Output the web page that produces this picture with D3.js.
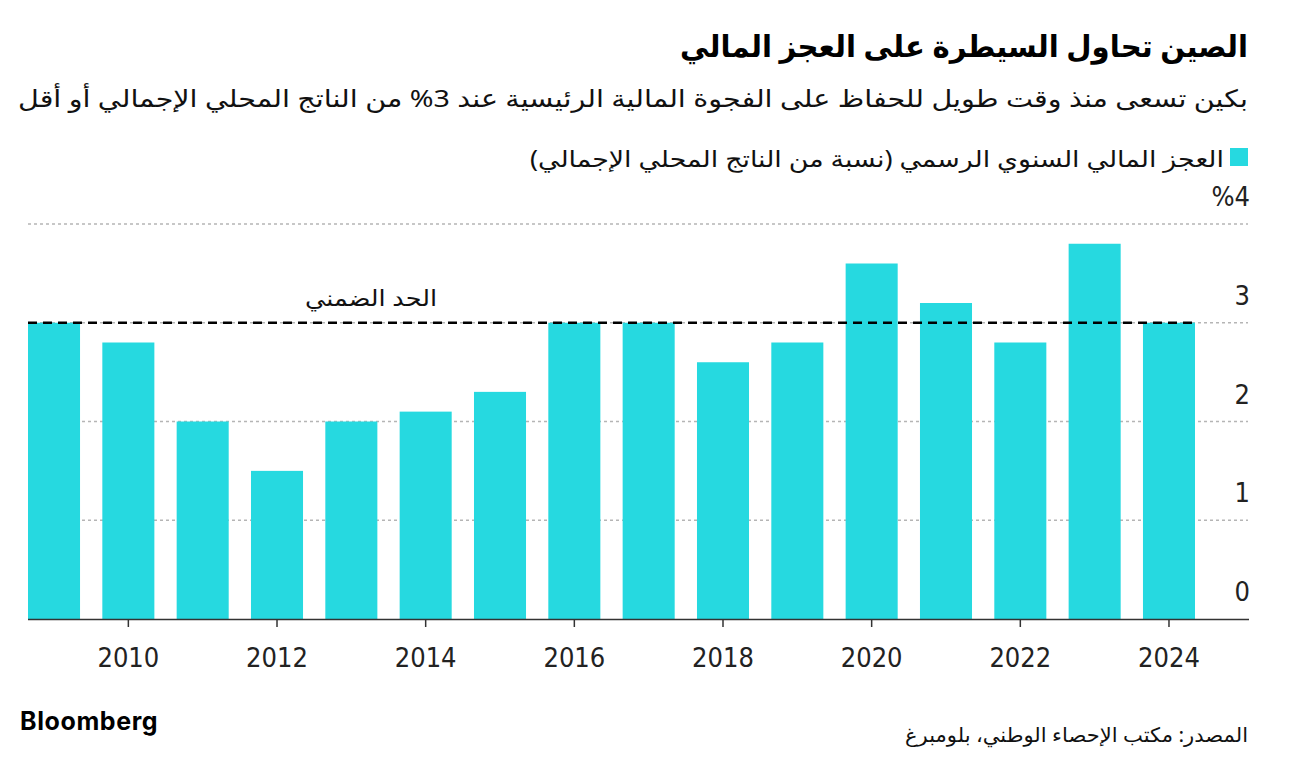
<!DOCTYPE html>
<html>
<head>
<meta charset="utf-8">
<script src="https://cdn.jsdelivr.net/npm/d3@7"></script>
<style>
  html, body { margin: 0; padding: 0; background: #fff; }
  svg { display: block; }
  .ar { font-family: "Noto Sans", "DejaVu Sans", sans-serif; }
</style>
</head>
<body>
<svg id="chart" width="1296" height="766"></svg>
<script>
const years = [2009, 2010, 2011, 2012, 2013, 2014, 2015, 2016, 2017, 2018, 2019, 2020, 2021, 2022, 2023, 2024];
const deficit = [3.0, 2.8, 2.0, 1.5, 2.0, 2.1, 2.3, 3.0, 3.0, 2.6, 2.8, 3.6, 3.2, 2.8, 3.8, 3.0];
const yTicks = [0, 1, 2, 3, 4];
const xTickYears = [2010, 2012, 2014, 2016, 2018, 2020, 2022, 2024];
const thresholdValue = 3;

const titleText = "الصين تحاول السيطرة على العجز المالي";
const subtitleText = "بكين تسعى منذ وقت طويل للحفاظ على الفجوة المالية الرئيسية عند 3% من الناتج المحلي الإجمالي أو أقل";
const legendText = "العجز المالي السنوي الرسمي (نسبة من الناتج المحلي الإجمالي)";
const thresholdLabel = "الحد الضمني";
const sourceText = "المصدر: مكتب الإحصاء الوطني، بلومبرغ";

const barColor = "#26d9e0";
const svg = d3.select("#chart");

const plotLeft = 28, plotRight = 1195, axisRight = 1249;
const y0 = 619, y4 = 224;

const x = d3.scaleBand().domain(years).range([plotLeft, plotRight]).paddingInner(0.3).paddingOuter(0);
const y = d3.scaleLinear().domain([0, 4]).range([y0, y4]);

function arText(xp, yp, size, txt, opts = {}) {
  const t = svg.append("text").attr("class", "ar")
    .attr("x", xp).attr("y", yp)
    .attr("direction", "rtl").attr("text-anchor", "start")
    .attr("font-size", size).attr("fill", opts.fill || "#111")
    .attr("font-weight", opts.weight || "normal")
    .text(txt);
  if (opts.len) t.attr("textLength", opts.len).attr("lengthAdjust", "spacingAndGlyphs");
  return t;
}

// Title & subtitle
arText(1248, 57, 30, titleText, { weight: "bold", fill: "#000", len: 568 });
arText(1248, 107, 24, subtitleText, { len: 1230 });

// Legend
svg.append("rect").attr("x", 1230).attr("y", 148).attr("width", 18).attr("height", 18).attr("fill", barColor);
arText(1224, 167, 23, legendText, { len: 694 });

// Gridlines
svg.append("g").selectAll("line").data(yTicks.filter(d => d > 0)).join("line")
  .attr("x1", plotLeft).attr("x2", axisRight - 1)
  .attr("y1", d => y(d)).attr("y2", d => y(d))
  .attr("stroke", "#b5b5b5").attr("stroke-width", 1.5).attr("stroke-dasharray", "3,3");

// Y labels
svg.append("g").selectAll("text").data(yTicks).join("text")
  .attr("x", 1250).attr("y", d => y(d) - 18)
  .attr("text-anchor", "end")
  .attr("font-family", "'DejaVu Sans Condensed', 'Noto Sans', sans-serif")
  .attr("font-size", 27).attr("fill", "#222")
  .text(d => d === 4 ? "%4" : String(d));

// Bars
svg.append("g").selectAll("rect").data(years.map((yr, i) => ({ yr, v: deficit[i] }))).join("rect")
  .attr("x", d => x(d.yr)).attr("width", x.bandwidth())
  .attr("y", d => y(d.v)).attr("height", d => y(0) - y(d.v))
  .attr("fill", barColor);

// Threshold line
svg.append("line")
  .attr("x1", plotLeft).attr("x2", plotRight)
  .attr("y1", y(thresholdValue)).attr("y2", y(thresholdValue))
  .attr("stroke", "#000").attr("stroke-width", 2.5).attr("stroke-dasharray", "9,6");

arText(437, 306, 22, thresholdLabel, { len: 132 });

// X axis
const xAxis = d3.axisBottom(x).tickValues(xTickYears).tickSize(8).tickPadding(21).tickSizeOuter(0);
const gx = svg.append("g").attr("transform", `translate(0,${y0})`).call(xAxis);
gx.select(".domain").remove();
gx.append("line").attr("x1", plotLeft).attr("x2", axisRight).attr("y1", 0.5).attr("y2", 0.5)
  .attr("stroke", "#333").attr("stroke-width", 1.5);
gx.selectAll(".tick line").attr("stroke", "#333").attr("stroke-width", 1.5);
gx.selectAll(".tick text")
  .attr("font-family", "'DejaVu Sans Condensed', 'Noto Sans', sans-serif")
  .attr("font-size", 27).attr("fill", "#222");

// Footer
svg.append("text")
  .attr("x", 20).attr("y", 730)
  .attr("font-family", "Inter, 'Noto Sans', sans-serif")
  .attr("font-size", 25).attr("font-weight", "bold").attr("fill", "#000")
  .attr("letter-spacing", 0.6)
  .text("Bloomberg");

arText(1248, 742, 20, sourceText, { len: 343 });
</script>
</body>
</html>
